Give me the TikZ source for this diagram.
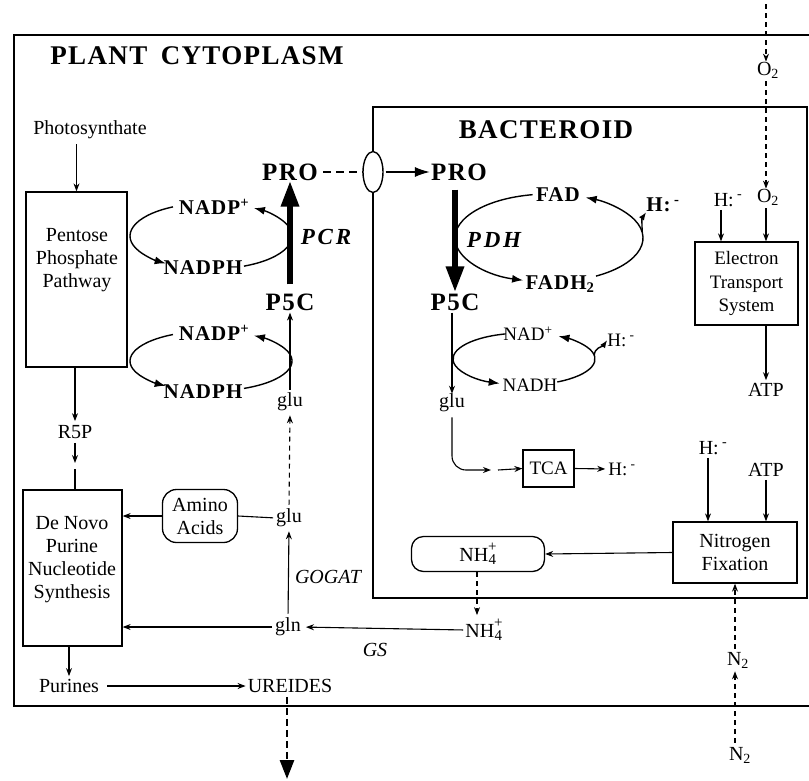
\documentclass[tikz,border=0pt]{standalone}
\usepackage{fontspec}
\setmainfont{Liberation Serif}
\usetikzlibrary{arrows.meta,shapes.geometric,calc}
\newcommand{\nhfour}{NH\raisebox{-3pt}{\fontsize{15}{11}\selectfont\shortstack{+\\4}}}
\newcommand{\hion}{H:\,\textsuperscript{-}}
\begin{document}
\begin{tikzpicture}[x=1pt,y=1pt,
  txt/.style={inner sep=0pt, font=\fontsize{20}{23}\selectfont, align=center},
  sml/.style={inner sep=0pt, font=\fontsize{19}{23.5}\selectfont, align=center},
  bld/.style={inner sep=0pt, font=\fontsize{21}{23}\selectfont\bfseries\addfontfeatures{LetterSpace=5}},
  bigl/.style={inner sep=0pt, font=\fontsize{25}{28}\selectfont\bfseries\addfontfeatures{LetterSpace=6}},
  ttl/.style={inner sep=0pt, font=\fontsize{27}{29}\selectfont\bfseries\addfontfeatures{LetterSpace=5}},
  enz/.style={inner sep=0pt, font=\fontsize{23}{26}\selectfont\bfseries\itshape\addfontfeatures{LetterSpace=12}},
  ital/.style={inner sep=0pt, font=\fontsize{20}{23}\selectfont\itshape},
  boxn/.style={draw, line width=1.3pt, inner sep=0pt},
  wall/.style={line width=2.8pt},
  arr/.style={line width=1.1pt, -{Stealth[length=8pt,width=6pt]}},
  cyc/.style={line width=1.4pt},
  cycarr/.style={line width=1.4pt, -{Latex[length=11pt,width=8pt]}},
  bigarrow/.style={line width=6pt, -{Triangle[length=26pt,width=17pt]}},
  dsh/.style={dash pattern=on 5pt off 4pt},
]
\useasboundingbox (0,0) rectangle (809,-780);

% compartments
\draw[wall] (809,-35) -- (14,-35) -- (14,-706) -- (809,-706);
\draw[wall] (373,-107) rectangle (807,-598);
\node[ttl] (title) at (197,-56) {PLANT\hspace{0.5em}CYTOPLASM};
\node[ttl] (bact) at (546,-130) {BACTEROID};

% left column
\node[txt] (photo) at (90,-130) {Photosynthate};
\node[boxn, minimum width=101pt, minimum height=175pt] (ppp) at (76.5,-279.5) {};
\node[txt] (ppptxt) at (77,-260) {Pentose\\Phosphate\\Pathway};
\node[txt] (r5p) at (75,-432) {R5P};
\coordinate (r5pa) at (75,-463);
\node[boxn, minimum width=99pt, minimum height=156pt] (dnb) at (72.5,-568) {};
\node[txt] (dntxt) at (72,-560) {De Novo\\Purine\\Nucleotide\\Synthesis};
\node[txt] (purines) at (69,-686) {Purines};
\node[txt] (ureides) at (290,-686) {UREIDES};
\coordinate (exportend) at (287,-779);

\draw[arr, shorten <=5pt] (photo.south -| ppp.north) -- (ppp.north);
\draw[arr, shorten >=4pt] (ppp.south -| r5p) -- (r5p.north);
\draw[arr, shorten <=4pt] (r5p.south) -- (r5pa);
\draw[line width=1.1pt] ([yshift=-6pt]r5pa) -- (r5pa |- dnb.north);
\draw[arr, shorten >=3pt] (dnb.south -| purines) -- (purines.north);
\draw[arr, shorten <=8pt, shorten >=2pt] (purines.east) -- (ureides.west);
\draw[line width=2.8pt, dash pattern=on 7pt off 4pt, -{Triangle[length=19pt,width=14pt]}, shorten <=4pt] (ureides.south -| exportend) -- (exportend);

% proline cycle in cytoplasm
\node[bigl] (proL) at (290,-172) {PRO};
\node[bigl] (p5cL) at (290,-302) {P5C};
\node[enz] (pcr) at (326,-237) {PCR};
\draw[bigarrow, shorten <=9pt] (p5cL.north) -- (proL.south);

\coordinate (c1) at (211,-236);
\coordinate (c2) at (211,-361);
\node[bld] (nadp1) at (214,-207) {NADP\textsuperscript{+}};
\node[bld] (nadph1) at (203,-268) {NADPH};
\node[bld] (nadp2) at (214,-333) {NADP\textsuperscript{+}};
\node[bld] (nadph2) at (203,-392) {NADPH};
\draw[cycarr] ($(c1)+(-66:81pt and 33pt)$) arc[start angle=-66, end angle=58, x radius=81pt, y radius=33pt];
\draw[cycarr] ($(c1)+(118:81pt and 33pt)$) arc[start angle=118, end angle=236, x radius=81pt, y radius=33pt];
\draw[cycarr] ($(c2)+(-66:81pt and 30pt)$) arc[start angle=-66, end angle=58, x radius=81pt, y radius=30pt];
\draw[cycarr] ($(c2)+(118:81pt and 30pt)$) arc[start angle=118, end angle=236, x radius=81pt, y radius=30pt];

% glutamate / glutamine
\node[txt] (glu1) at (290,-402) {glu};
\node[txt] (glu2) at (289,-518) {glu};
\node[txt] (gln) at (288,-627) {gln};
\node[boxn, rounded corners=14pt, minimum width=75pt, minimum height=53pt, align=center, font=\fontsize{20}{23}\selectfont] (amino) at (200,-516) {Amino\\Acids};
\node[ital] (gogat) at (328,-577) {GOGAT};
\node[ital] (gs) at (375,-650) {GS};
\node[txt] (nh4c) at (484,-630) {\nhfour};

\draw[arr, shorten <=3pt, shorten >=2pt] (glu1.north) -- (p5cL.south);
\draw[arr, dsh, shorten <=4pt, shorten >=4pt] (glu2.north) -- (glu1.south);
\draw[arr, shorten <=4pt, shorten >=4pt] (gln.north) -- (glu2.south);
\draw[line width=1.1pt, shorten >=3pt] (amino.east) -- (glu2.west);
\draw[arr] (amino.west) -- (amino.west -| dnb.east);
\draw[arr, shorten <=3pt] (gln.west) -- (gln.west -| dnb.east);
\draw[arr, shorten <=2pt, shorten >=5pt] (nh4c.west) -- (gln.east);

% membrane transport of proline
\node[draw, ellipse, line width=1.4pt, fill=white, minimum width=20pt, minimum height=41pt, inner sep=0pt] (oval) at (373,-172) {};
\node[bigl] (proR) at (459,-172) {PRO};
\draw[line width=1.6pt, dash pattern=on 8pt off 5pt, shorten <=5pt] (proL.east) -- (oval.west);
\draw[line width=1.6pt, -{Latex[length=15pt,width=10pt]}, shorten <=2pt, shorten >=1pt] (oval.east) -- (proR.west);

% bacteroid proline oxidation
\node[bigl] (p5cR) at (455,-302) {P5C};
\node[enz] (pdh) at (494,-240) {PDH};
\draw[bigarrow, shorten <=9pt, shorten >=1pt] (proR.south -| p5cR) -- (p5cR.north);

\coordinate (c3) at (549,-238);
\node[bld] (fad) at (558,-195) {FAD};
\node[bld] (fadh) at (560,-284) {FADH\textsubscript{2}};
\node[bld] (hfad) at (663,-205) {\hion};
\draw[cycarr] ($(c3)+(100:94pt and 44pt)$) arc[start angle=100, end angle=254, x radius=94pt, y radius=44pt];
\draw[cycarr] ($(c3)+(-60:94pt and 44pt)$) arc[start angle=-60, end angle=67, x radius=94pt, y radius=44pt];
\coordinate (b3) at ($(c3)+(8:94pt and 44pt)$);
\draw[line width=1.4pt, -{Latex[length=8pt,width=6pt]}] (b3) to[out=90,in=235] (hfad.south west);

\coordinate (c4) at (524,-359);
\node[sml] (nad) at (528,-334) {NAD\textsuperscript{+}};
\node[sml] (nadh) at (530,-385) {NADH};
\node[sml] (hnad) at (621,-340) {\hion};
\draw[cycarr] ($(c4)+(105:71pt and 26pt)$) arc[start angle=105, end angle=250, x radius=71pt, y radius=26pt];
\draw[cycarr] ($(c4)+(-62:71pt and 26pt)$) arc[start angle=-62, end angle=61, x radius=71pt, y radius=26pt];
\coordinate (b4) at ($(c4)+(8:71pt and 26pt)$);
\draw[line width=1.4pt, -{Latex[length=8pt,width=6pt]}] (b4) to[out=90,in=235] (hnad.west);

\node[txt] (glub) at (452,-403) {glu};
\coordinate (tcaa) at (491,-470);
\node[boxn, minimum width=51pt, minimum height=37pt, font=\fontsize{19}{23}\selectfont] (tca) at (548.5,-468.5) {TCA};
\node[sml] (htca) at (622,-469) {\hion};
\draw[arr, shorten <=2pt] (p5cR.south -| glub) -- (glub.north);
\draw[arr, rounded corners=14pt, shorten <=5pt] (glub.south) |- (tcaa);
\draw[arr] ([xshift=7pt]tcaa) -- (tca.west);
\draw[arr, shorten >=3pt] (tca.east) -- (htca.west);

% electron transport
\node[txt] (o2top) at (768,-70) {O\textsubscript{2}};
\node[txt] (o2) at (768,-197) {O\textsubscript{2}};
\node[txt] (hets) at (728,-200) {\hion};
\node[boxn, minimum width=103pt, minimum height=83pt, align=center, font=\fontsize{19}{23.5}\selectfont] (ets) at (746.5,-283.5) {Electron\\Transport\\System};
\node[txt] (atp1) at (766,-390) {ATP};
\coordinate (o2src) at (766,-4);
\draw[arr, dsh, line width=1.1pt] (o2src) -- (o2src |- o2top.north);
\draw[arr, dsh, shorten <=3pt] (o2top.south -| o2src) -- (o2.north -| o2src);
\draw[arr, shorten <=3pt] ([xshift=-7pt]hets.south) -- ([xshift=-7pt]hets.south |- ets.north);
\draw[arr, shorten <=3pt] (o2.south -| atp1) -- (ets.north -| atp1);
\draw[arr, shorten >=3pt] (ets.south -| atp1) -- (atp1.north);

% nitrogen fixation
\node[txt] (hnf) at (713,-448) {\hion};
\node[txt] (atp2) at (766,-470) {ATP};
\node[boxn, minimum width=124pt, minimum height=61pt, align=center, font=\fontsize{20}{23}\selectfont] (nf) at (735,-552.5) {Nitrogen\\Fixation};
\node[boxn, rounded corners=12pt, minimum width=133pt, minimum height=35pt, font=\fontsize{20}{23}\selectfont] (nh4b) at (478,-554) {\nhfour};
\node[txt] (n2in) at (738,-660) {N\textsubscript{2}};
\node[txt] (n2out) at (740,-755) {N\textsubscript{2}};
\draw[arr, shorten <=3pt] ([xshift=-5pt]hnf.south) -- ([xshift=-5pt]hnf.south |- nf.north);
\draw[arr, shorten <=3pt] (atp2.south) -- (atp2.south |- nf.north);
\draw[arr] (nf.west) -- (nh4b.east);
\draw[arr, dsh, line width=1.1pt] (nh4b.south -| 477,0) -- ([yshift=4pt]nh4c.north -| 477,0);
\draw[arr, dsh, line width=1.1pt, shorten <=4pt, shorten >=3pt] (n2out.north -| nf.south) -- (n2in.south -| nf.south);
\draw[arr, dsh, line width=1.1pt, shorten <=3pt] (n2in.north -| nf.south) -- (nf.south);
\end{tikzpicture}
\end{document}
